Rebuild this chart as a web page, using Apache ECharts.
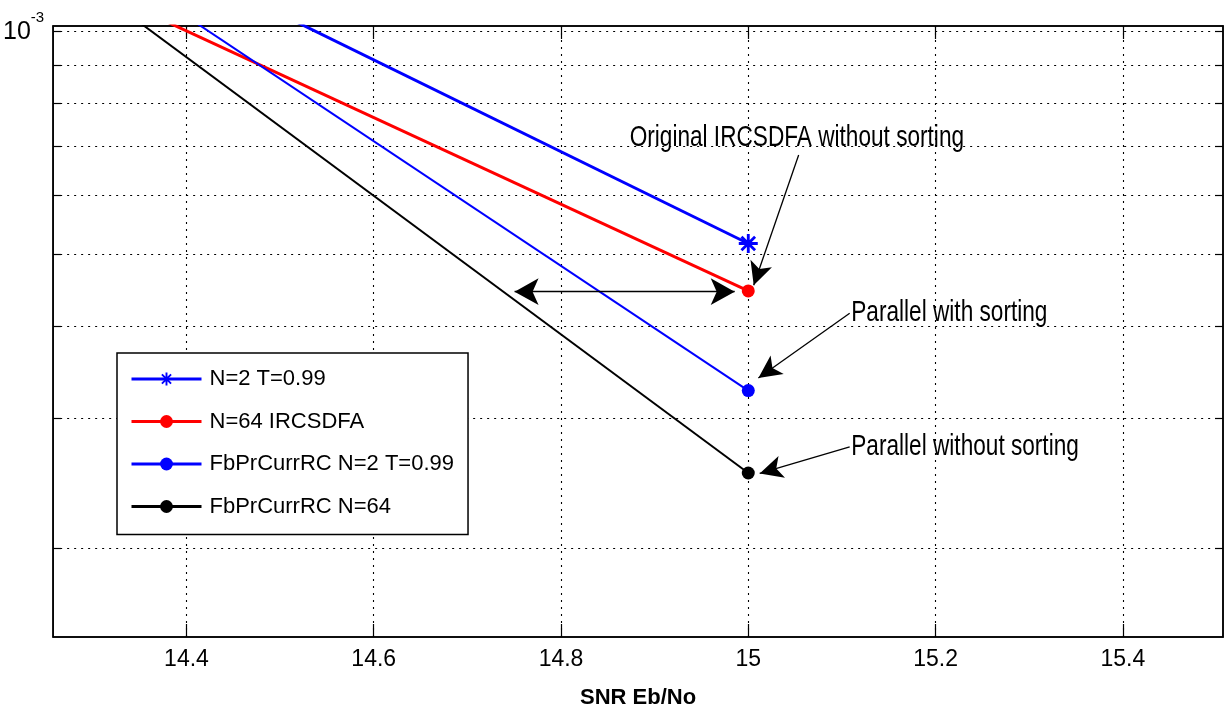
<!DOCTYPE html>
<html>
<head>
<meta charset="UTF-8">
<title>SNR Eb/No</title>
<script src="https://cdn.jsdelivr.net/npm/echarts@6/dist/echarts.min.js"></script>
<style>
html, body { margin: 0; padding: 0; background: #fff; }
#main { width: 1225px; height: 717px; }
</style>
</head>
<body>
<div id="main"></div>
<script type="text/javascript">
// values (x = 14 lies left of the visible range)
var snr = [14, 15];
var berStar = [2.16e-3, 5.17e-4];
var berIrcsdfa = [1.72e-3, 4.46e-4];
var berFbN2 = [2.28e-3, 3.27e-4];
var berFbN64 = [2.19e-3, 2.53e-4];

var names = ['N=2 T=0.99', 'N=64 IRCSDFA', 'FbPrCurrRC N=2 T=0.99', 'FbPrCurrRC N=64'];

var xTicks = [14.4, 14.6, 14.8, 15, 15.2, 15.4];
var yTicks = [2e-4, 3e-4, 4e-4, 5e-4, 6e-4, 7e-4, 8e-4, 9e-4, 1e-3];
var yLabels = [1e-3];

// annotations, in data coordinates
var noteText = ['Original IRCSDFA without sorting', 'Parallel with sorting', 'Parallel without sorting'];
var noteAt = [[14.8733, 7.18e-4], [15.110, 4.16e-4], [15.110, 2.745e-4]];
var arrowFrom = [[15.0538, 6.81e-4], [15.1083, 4.16e-4], [15.1083, 2.745e-4]];
var arrowTo = [[15.0058, 4.54e-4], [15.0108, 3.40e-4], [15.0122, 2.526e-4]];
var spanArrow = [[14.7504, 4.45e-4], [14.9855, 4.45e-4]];

var font = "'Liberation Sans', Arial, sans-serif";
var starPath = 'path://M0 8.5H20V11.5H0Z M8.5 0H11.5V20H8.5Z M1.8 3.9L3.9 1.8L18.2 16.1L16.1 18.2Z M16.1 1.8L18.2 3.9L3.9 18.2L1.8 16.1Z';

function pts(ys) {
	return snr.map(function (x, i) { return [x, ys[i]]; });
}

var dotted = { type: [2, 5], color: '#000', width: 1.1 };

function xAxis(pos) {
	return {
		type: 'value', position: pos, min: 14.2576, max: 15.507,
		axisLine: { show: true, lineStyle: { color: '#000', width: 1.5 } },
		axisTick: { show: true, inside: true, length: 13, customValues: xTicks, lineStyle: { color: '#000', width: 1.2 } },
		axisLabel: { show: pos === 'bottom', customValues: xTicks, margin: 11, color: '#000', fontSize: 23, fontFamily: font },
		splitLine: { show: pos === 'bottom', lineStyle: dotted }
	};
}

function yAxis(pos) {
	return {
		type: 'log', logBase: 10, position: pos, min: 1.518e-4, max: 1.0179e-3,
		axisLine: { show: true, lineStyle: { color: '#000', width: 1.5 } },
		axisTick: { show: true, inside: true, length: 8, customValues: yTicks, lineStyle: { color: '#000', width: 1.2 } },
		axisLabel: {
			show: pos === 'left', customValues: yLabels, margin: 9,
			formatter: function () { return '{b|10}{s|-3}'; },
			rich: {
				b: { fontSize: 25, fontFamily: font, color: '#000', lineHeight: 42 },
				s: { fontSize: 15, fontFamily: font, color: '#000', verticalAlign: 'top', lineHeight: 16 }
			}
		},
		splitLine: { show: pos === 'left', lineStyle: dotted },
		minorTick: { show: false },
		minorSplitLine: { show: false }
	};
}

var option = {
	backgroundColor: '#fff',
	animation: false,
	grid: { left: 52, top: 26, right: 2, bottom: 80, show: true, borderColor: '#000', borderWidth: 1.5 },
	legend: {
		orient: 'vertical', left: 117, top: 353,
		data: names, selectedMode: false,
		itemWidth: 70, itemHeight: 16, itemGap: 12.5,
		padding: [11, 14, 13, 13],
		borderColor: '#000', borderWidth: 1.5, backgroundColor: '#fff',
		lineStyle: { width: 3 },
		textStyle: { fontSize: 22, fontFamily: font, color: '#000', lineHeight: 30, padding: [0, 0, 0, 3] }
	},
	xAxis: [Object.assign(xAxis('bottom'), {
		name: 'SNR Eb/No', nameLocation: 'middle', nameGap: 50,
		nameTextStyle: { fontSize: 22, fontWeight: 'bold', fontFamily: font, color: '#000' }
	}), xAxis('top')],
	yAxis: [yAxis('left'), yAxis('right')],
	series: [
		{
			name: names[0], type: 'line', data: pts(berStar),
			symbol: starPath, symbolSize: 19,
			lineStyle: { color: '#0000ff', width: 3 }, itemStyle: { color: '#0000ff' }
		},
		{
			name: names[1], type: 'line', data: pts(berIrcsdfa),
			symbol: 'circle', symbolSize: 13,
			lineStyle: { color: '#ff0000', width: 3 }, itemStyle: { color: '#ff0000' },
			markLine: {
				silent: true, symbol: ['arrow', 'arrow'], symbolSize: [20, 24],
				label: { show: false },
				lineStyle: { color: '#000', width: 1.3, type: 'solid' },
				data: [[{ coord: spanArrow[0] }, { coord: spanArrow[1] }]]
			}
		},
		{
			name: names[2], type: 'line', data: pts(berFbN2),
			symbol: 'circle', symbolSize: 13,
			lineStyle: { color: '#0000ff', width: 2 }, itemStyle: { color: '#0000ff' }
		},
		{
			name: names[3], type: 'line', data: pts(berFbN64),
			symbol: 'circle', symbolSize: 13,
			lineStyle: { color: '#000', width: 2 }, itemStyle: { color: '#000' },
			markLine: {
				silent: true, symbol: ['none', 'arrow'], symbolSize: [17, 23],
				label: { show: false },
				lineStyle: { color: '#000', width: 1.3, type: 'solid' },
				data: arrowFrom.map(function (p, i) { return [{ coord: p }, { coord: arrowTo[i] }]; })
			}
		}
	]
};

var chart = echarts.init(document.getElementById('main'));
chart.setOption(option);

// the reference uses a tall narrow face, so squeeze the notes sideways
var notes = noteText.map(function (t, i) {
	var p = chart.convertToPixel({ gridIndex: 0 }, noteAt[i]);
	return {
		type: 'text', x: p[0], y: p[1], z: 100, scaleX: 0.78,
		style: { text: t, fontSize: 29, fontFamily: font, fill: '#000', align: 'left', verticalAlign: 'middle' }
	};
});
chart.setOption({ graphic: notes });
</script>
</body>
</html>
